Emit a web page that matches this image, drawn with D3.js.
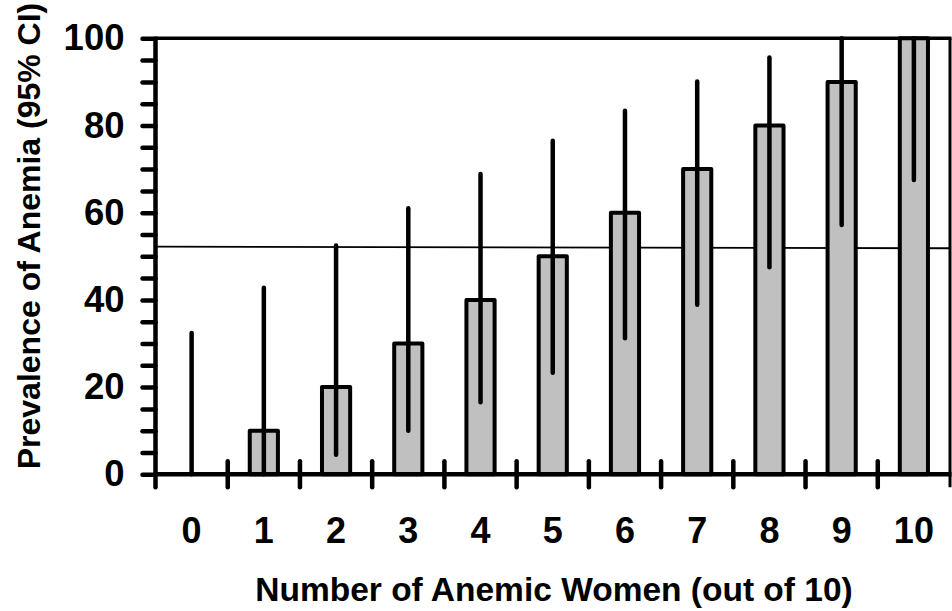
<!DOCTYPE html>
<html>
<head>
<meta charset="utf-8">
<script src="https://cdn.jsdelivr.net/npm/d3@7"></script>
<style>
  html, body { margin: 0; padding: 0; background: #fff; }
  svg { display: block; }
  text { font-family: "Liberation Sans", Arial, sans-serif; font-weight: bold; fill: #000; }
</style>
</head>
<body>
<svg id="chart" width="952" height="611"></svg>
<script>
// ---- data ----
const categories = ["0","1","2","3","4","5","6","7","8","9","10"];
const prevalence = [0, 10, 20, 30, 40, 50, 60, 70, 80, 90, 100];
const ciLower    = [0, 0, 4.5, 10.0, 16.5, 23.3, 31.2, 38.9, 47.5, 57.2, 67.5];
const ciUpper    = [32.4, 42.8, 52.5, 61.0, 68.9, 76.5, 83.4, 90.1, 95.6, 100, 100];
const refLine    = [52.2, 51.85];   // thin reference line: value at left edge, right edge
const yTickValues = [0, 20, 40, 60, 80, 100];
const yMinorValues = [5,10,15,25,30,35,45,50,55,65,70,75,85,90,95];
const xTitle = "Number of Anemic Women (out of 10)";
const yTitle = "Prevalence of Anemia (95% CI)";

(function () {
// ---- layout ----
const svg = d3.select("#chart");
const mLeft = 155.5, mRight = 950, mTop = 38.3, mBottom = 474.3;

const x = d3.scaleBand().domain(categories).range([mLeft, mRight]).paddingInner(0).paddingOuter(0);
const y = d3.scaleLinear().domain([0, 100]).range([mBottom, mTop]);

const barW = x.bandwidth() * 0.39;

// reference line
svg.append("line")
  .attr("x1", mLeft).attr("x2", mRight)
  .attr("y1", y(refLine[0])).attr("y2", y(refLine[1]))
  .attr("stroke", "#000").attr("stroke-width", 1.8);

// bars
const data = categories.map((c, i) => ({c, v: prevalence[i], lo: ciLower[i], hi: ciUpper[i]}));
svg.append("g").selectAll("rect").data(data.filter(d => d.v > 0)).join("rect")
  .attr("x", d => x(d.c) + x.bandwidth() / 2 - barW / 2)
  .attr("width", barW)
  .attr("y", d => y(d.v))
  .attr("height", d => y(0) - y(d.v))
  .attr("fill", "#c0c0c0")
  .attr("stroke", "#000")
  .attr("stroke-width", 4)
  .attr("stroke-linejoin", "round");

// error bars
svg.append("g").selectAll("line").data(data).join("line")
  .attr("x1", d => x(d.c) + x.bandwidth() / 2)
  .attr("x2", d => x(d.c) + x.bandwidth() / 2)
  .attr("y1", d => y(d.lo))
  .attr("y2", d => y(d.hi))
  .attr("stroke", "#000")
  .attr("stroke-width", 4.5)
  .attr("stroke-linecap", "round");

// frame: top and right
svg.append("line").attr("x1", mLeft).attr("x2", mRight + 1.5).attr("y1", mTop).attr("y2", mTop)
  .attr("stroke", "#000").attr("stroke-width", 3.5);
svg.append("line").attr("x1", mRight).attr("x2", mRight).attr("y1", mTop).attr("y2", mBottom + 13)
  .attr("stroke", "#000").attr("stroke-width", 3);

// y axis
const yAxis = d3.axisLeft(y).tickValues(yTickValues).tickSize(13).tickPadding(18).tickFormat(d3.format("d"));
const gy = svg.append("g").attr("transform", `translate(${mLeft},0)`).call(yAxis);
gy.select(".domain").remove();
gy.selectAll(".tick line").attr("stroke", "#000").attr("stroke-width", 4.5).attr("stroke-linecap", "round");
gy.selectAll(".tick text").style("font-size", "36.5px").style("font-family", "'Liberation Sans', Arial, sans-serif").style("font-weight", "bold").attr("fill", "#000");
const gyMinor = svg.append("g").attr("transform", `translate(${mLeft},0)`)
  .call(d3.axisLeft(y).tickValues(yMinorValues).tickSize(13).tickFormat(""));
gyMinor.select(".domain").remove();
gyMinor.selectAll(".tick line").attr("stroke", "#000").attr("stroke-width", 4.5).attr("stroke-linecap", "round");
svg.append("line").attr("x1", mLeft).attr("x2", mLeft).attr("y1", mTop - 1.5).attr("y2", mBottom)
  .attr("stroke", "#000").attr("stroke-width", 4.5);

// x axis: boundary ticks between categories
const boundaries = categories.slice(1).map(c => x(c));
svg.append("g").selectAll("line").data(boundaries).join("line")
  .attr("x1", d => d).attr("x2", d => d)
  .attr("y1", mBottom - 13).attr("y2", mBottom + 13)
  .attr("stroke", "#000").attr("stroke-width", 4.5).attr("stroke-linecap", "round");
svg.append("line").attr("x1", mLeft).attr("x2", mLeft).attr("y1", mBottom).attr("y2", mBottom + 13)
  .attr("stroke", "#000").attr("stroke-width", 4.5).attr("stroke-linecap", "round");
svg.append("line").attr("x1", mLeft - 2).attr("x2", mRight + 1.5).attr("y1", mBottom).attr("y2", mBottom)
  .attr("stroke", "#000").attr("stroke-width", 4.5);

// x labels
svg.append("g").selectAll("text").data(categories).join("text")
  .attr("x", d => x(d) + x.bandwidth() / 2)
  .attr("y", 543)
  .attr("text-anchor", "middle")
  .style("font-size", "36px")
  .text(d => d);

// titles
svg.append("text").attr("x", 554).attr("y", 601).attr("text-anchor", "middle")
  .style("font-size", "33.5px").text(xTitle);
svg.append("text").attr("transform", `translate(40,236) rotate(-90)`).attr("text-anchor", "middle")
  .style("font-size", "32px").text(yTitle);
})();
</script>
</body>
</html>
